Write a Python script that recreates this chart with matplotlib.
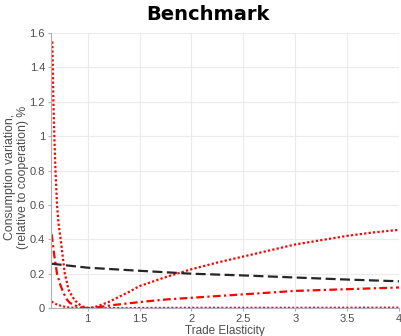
import matplotlib
matplotlib.use("Agg")
import matplotlib.pyplot as plt

plt.rcParams["font.family"] = ["Liberation Sans", "DejaVu Sans"]

# black dashed curve
x_dash = [0.653, 1.0, 1.5, 2.0, 2.5, 3.0, 3.5, 4.0]
y_dash = [0.258, 0.235, 0.217, 0.200, 0.190, 0.178, 0.166, 0.156]

# big red dotted curve
x_dot = [0.66, 0.67, 0.68, 0.69, 0.705, 0.72, 0.74, 0.76, 0.78, 0.80, 0.82, 0.86,
         0.90, 0.95, 1.0, 1.05, 1.1, 1.2, 1.3, 1.4, 1.5, 1.75, 2.0, 2.25, 2.5,
         2.75, 3.0, 3.25, 3.5, 3.75, 4.0]
y_dot = [1.55, 1.2, 0.98, 0.80, 0.60, 0.49, 0.40, 0.30, 0.20, 0.15, 0.10, 0.06,
         0.03, 0.01, 0.002, 0.003, 0.012, 0.035, 0.065, 0.095, 0.128, 0.18, 0.226, 0.265, 0.30,
         0.335, 0.37, 0.395, 0.42, 0.44, 0.455]

# red dash-dot curve
x_dd = [0.653, 0.68, 0.705, 0.74, 0.77, 0.80, 0.83, 0.9, 0.95, 1.0, 1.1, 1.25,
        1.5, 1.75, 2.0, 2.5, 3.0, 3.5, 4.0]
y_dd = [0.43, 0.30, 0.20, 0.13, 0.085, 0.05, 0.03, 0.01, 0.003, 0.0, 0.005, 0.018,
        0.035, 0.05, 0.06, 0.08, 0.10, 0.11, 0.12]

# small red dotted curve
x_small = [0.653, 0.7, 0.75, 0.8, 0.9, 1.0, 1.5, 2.0, 3.0, 4.0]
y_small = [0.038, 0.022, 0.012, 0.005, 0.001, 0.0, 0.001, 0.002, 0.002, 0.003]

fig = plt.figure(figsize=(4.01, 3.36), dpi=100)
ax = fig.add_axes([0.128, 0.083, 0.867, 0.819])

ax.plot(x_small, y_small, color="red", linestyle=(0, (1, 1)), linewidth=1.5)
ax.plot(x_dd, y_dd, color="red", linestyle=(0, (3.5, 1.5, 1, 1.5)), linewidth=1.6)
ax.plot(x_dot, y_dot, color="red", linestyle=(0, (1, 1)), linewidth=1.6)
ax.plot(x_dash, y_dash, color="#262626", linestyle=(0, (4.5, 2)), linewidth=1.6)

ax.set_xlim(0.65, 4)
ax.set_ylim(0, 1.6)
ax.set_xticks([1, 1.5, 2, 2.5, 3, 3.5, 4])
ax.set_xticklabels(["1", "1.5", "2", "2.5", "3", "3.5", "4"])
ax.set_yticks([0, 0.2, 0.4, 0.6, 0.8, 1, 1.2, 1.4, 1.6])
ax.set_yticklabels(["0", "0.2", "0.4", "0.6", "0.8", "1", "1.2", "1.4", "1.6"])
ax.grid(True, color="#ebebeb", linewidth=0.8)
ax.set_axisbelow(True)
for s in ["top", "right"]:
    ax.spines[s].set_visible(False)
for s in ["left", "bottom"]:
    ax.spines[s].set_color("#b0b0b0")
ax.tick_params(colors="#4d4d4d", labelsize=8, length=2.5, pad=2, direction="out")
ax.tick_params(axis="both", color="#b0b0b0")

ax.set_xlabel("Trade Elasticity", fontsize=8.5, color="#4d4d4d", labelpad=0)
ax.xaxis.set_label_coords(0.5, -0.061)
ax.set_ylabel("Consumption variation,\n(relative to cooperation) %", fontsize=8.8,
              color="#4d4d4d", linespacing=1.1)
ax.yaxis.set_label_coords(-0.064, 0.475)
ax.set_title("Benchmark", fontsize=14, fontweight="bold", family="DejaVu Sans",
             x=0.45, pad=9)

fig.savefig("out.png", dpi=100)
